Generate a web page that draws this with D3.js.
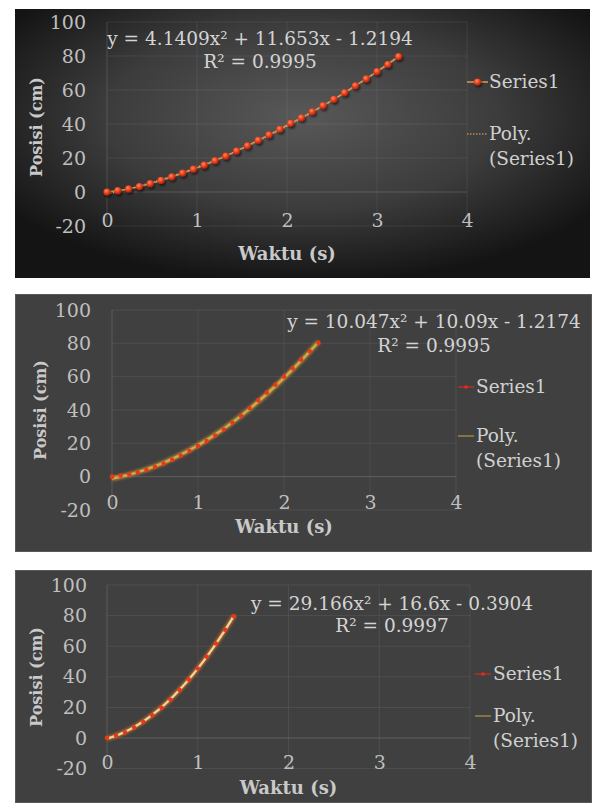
<!DOCTYPE html>
<html><head><meta charset="utf-8">
<script src="https://cdn.jsdelivr.net/npm/d3@7"></script>
<style>body{margin:0;background:#fff}svg{display:block}</style>
</head><body>
<script>
// ---------- data ----------
const xTicks = [0, 1, 2, 3, 4];
const yTicks = [-20, 0, 20, 40, 60, 80, 100];
const xTitle = "Waktu (s)";
const yTitle = "Posisi (cm)";
const seriesName = "Series1";
const trendName = ["Poly.", "(Series1)"];

const time1 = [0, 0.12, 0.24, 0.36, 0.48, 0.60, 0.72, 0.84, 0.96, 1.08, 1.20, 1.32, 1.44, 1.56,
               1.68, 1.80, 1.92, 2.04, 2.16, 2.28, 2.40, 2.52, 2.64, 2.76, 2.88, 3.00, 3.12, 3.24];
const pos1  = [0, 0.8, 1.8, 3.2, 4.9, 6.8, 8.9, 11.1, 13.4, 15.8, 18.4, 21.1, 24.1, 27.2,
               30.4, 33.6, 36.9, 40.4, 43.6, 47.2, 50.8, 54.5, 58.4, 62.5, 66.5, 70.8, 75.0, 79.6];
const coef1 = [4.1409, 11.653, -1.2194];
const r2_1 = "0.9995";

const time2 = [0, 0.1, 0.2, 0.3, 0.4, 0.5, 0.6, 0.7, 0.8, 0.9, 1.0, 1.1, 1.2, 1.3, 1.4, 1.5,
               1.6, 1.7, 1.8, 1.9, 2.0, 2.1, 2.2, 2.3, 2.4];
const pos2  = [0, 0.6, 1.4, 2.6, 4.0, 5.8, 7.8, 10.1, 12.7, 15.4, 18.3, 21.3, 24.7, 28.3, 32.3, 36.5,
               41.2, 45.8, 50.4, 55.2, 60.0, 65.0, 70.2, 75.2, 80.4];
const coef2 = [10.047, 10.09, -1.2174];
const r2_2 = "0.9995";

const time3 = [0, 0.1, 0.2, 0.3, 0.4, 0.5, 0.6, 0.7, 0.8, 0.9, 1.0, 1.1, 1.2, 1.3, 1.4];
const pos3  = [0, 1.4, 3.7, 6.9, 10.4, 14.9, 19.7, 25.0, 31.4, 38.3, 45.4, 53.1, 61.8, 70.8, 79.6];
const coef3 = [29.166, 16.6, -0.3904];
const r2_3 = "0.9997";

// ---------- layout ----------
const FONT = "'DejaVu Serif', serif";
const panels = [
  { bg: "url(#bg1)", rect: [15, 9, 575, 269], x0: 107, x1: 467, yt: 22, yb: 226,
    yLabRight: 86, xLabC: 220, yTitleX: 36, yTitleY: 127, xTitleY: 254,
    eqX: 260, eqY1: 45, eqY2: 68,
    legX: 467, legY1: 82, legY2: 134, style: 1,
    time: time1, pos: pos1, coef: coef1, r2: r2_1 },
  { bg: "#404040", rect: [15, 294, 577, 258], x0: 112, x1: 456, yt: 310, yb: 510,
    yLabRight: 91, xLabC: 502, yTitleX: 40, yTitleY: 410, xTitleY: 527,
    eqX: 434, eqY1: 328, eqY2: 352,
    legX: 458, legY1: 387, legY2: 436, style: 2,
    time: time2, pos: pos2, coef: coef2, r2: r2_2 },
  { bg: "#404040", rect: [15, 570, 577, 233], x0: 107, x1: 470, yt: 585, yb: 768.6,
    yLabRight: 87, xLabC: 762, yTitleX: 36, yTitleY: 677, xTitleY: 788,
    eqX: 392, eqY1: 610, eqY2: 632,
    legX: 475, legY1: 674, legY2: 716, style: 3,
    time: time3, pos: pos3, coef: coef3, r2: r2_3 }
];

const svg = d3.select("body").append("svg").attr("width", 593).attr("height", 803);
const defs = svg.append("defs");
const rg = defs.append("radialGradient").attr("id", "bg1").attr("cx", "50%").attr("cy", "40%").attr("r", "62%");
rg.append("stop").attr("offset", "0%").attr("stop-color", "#585858");
rg.append("stop").attr("offset", "55%").attr("stop-color", "#3c3c3c");
rg.append("stop").attr("offset", "100%").attr("stop-color", "#141414");

const mg = defs.append("radialGradient").attr("id", "mk").attr("cx", "40%").attr("cy", "35%").attr("r", "65%");
mg.append("stop").attr("offset", "0%").attr("stop-color", "#ff8a60");
mg.append("stop").attr("offset", "55%").attr("stop-color", "#e8401c");
mg.append("stop").attr("offset", "100%").attr("stop-color", "#a82010");

const sh = defs.append("filter").attr("id", "shadow").attr("x", "-50%").attr("y", "-50%").attr("width", "200%").attr("height", "200%");
sh.append("feDropShadow").attr("dx", 1.2).attr("dy", 1.8).attr("stdDeviation", 1).attr("flood-color", "#000").attr("flood-opacity", 0.6);
const gl = defs.append("filter").attr("id", "glow").attr("x", "-20%").attr("y", "-20%").attr("width", "140%").attr("height", "140%");
gl.append("feGaussianBlur").attr("stdDeviation", 1.1);

function eqText(c) {
  const sign = c[2] < 0 ? " - " : " + ";
  return `y = ${c[0]}x² + ${c[1]}x${sign}${Math.abs(c[2])}`;
}

panels.forEach(P => {
  const g = svg.append("g");
  g.append("rect").attr("x", P.rect[0]).attr("y", P.rect[1]).attr("width", P.rect[2]).attr("height", P.rect[3])
    .attr("fill", P.bg);
  if (P.style !== 1) {
    g.append("rect").attr("x", P.rect[0] + 0.5).attr("y", P.rect[1] + 0.5).attr("width", P.rect[2] - 1).attr("height", P.rect[3] - 1)
      .attr("fill", "none").attr("stroke", "#595959").attr("stroke-width", 1);
  }
  const x = d3.scaleLinear().domain([0, 4]).range([P.x0, P.x1]);
  const y = d3.scaleLinear().domain([-20, 100]).range([P.yb, P.yt]);
  const gridCol = "rgba(255,255,255,0.07)";

  // grid
  g.append("g").selectAll("line").data(yTicks).join("line")
    .attr("x1", P.x0).attr("x2", P.x1).attr("y1", d => y(d)).attr("y2", d => y(d))
    .attr("stroke", d => d === 0 ? "rgba(255,255,255,0.16)" : gridCol).attr("stroke-width", 1);
  g.append("g").selectAll("line").data(xTicks).join("line")
    .attr("y1", P.yt).attr("y2", P.yb).attr("x1", d => x(d)).attr("x2", d => x(d))
    .attr("stroke", d => d === 0 ? "rgba(255,255,255,0.14)" : gridCol).attr("stroke-width", 1);

  // axes
  const ya = g.append("g").attr("transform", `translate(${P.yLabRight + 2},0)`)
    .call(d3.axisLeft(y).tickValues(yTicks).tickFormat(d => String(d)).tickSize(0).tickPadding(2));
  ya.select(".domain").remove();
  ya.selectAll("text").attr("font-family", FONT).attr("font-size", 19).attr("fill", "#bfbfbf");
  const xa = g.append("g").attr("transform", `translate(0,${P.xLabC - 9})`)
    .call(d3.axisBottom(x).tickValues(xTicks).tickFormat(d => String(d)).tickSize(0).tickPadding(2));
  xa.select(".domain").remove();
  xa.selectAll("text").attr("font-family", FONT).attr("font-size", 19).attr("fill", "#bfbfbf");

  // titles
  g.append("text").attr("transform", `translate(${P.yTitleX},${P.yTitleY}) rotate(-90)`)
    .attr("text-anchor", "middle").attr("dy", "0.35em")
    .attr("font-family", FONT).attr("font-weight", "bold").attr("font-size", 16).attr("fill", "#c9c9c9").text(yTitle);
  g.append("text").attr("x", (P.x0 + P.x1) / 2).attr("y", P.xTitleY).attr("dy", "0.35em")
    .attr("text-anchor", "middle")
    .attr("font-family", FONT).attr("font-weight", "bold").attr("font-size", 18).attr("fill", "#c9c9c9").text(xTitle);

  // trendline sampled from the fitted polynomial shown in the chart
  const tMax = d3.max(P.time);
  const ts = d3.range(0, 101).map(i => tMax * i / 100);
  const trend = ts.map(t => [t, P.coef[0] * t * t + P.coef[1] * t + P.coef[2]]);
  const lineGen = d3.line().x(d => x(d[0])).y(d => y(d[1]));
  const pts = P.time.map((t, i) => [t, P.pos[i]]);

  if (P.style === 1) {
    g.append("path").attr("d", lineGen(pts)).attr("fill", "none").attr("stroke", "#d89050").attr("stroke-width", 1.6);
    g.append("path").attr("d", lineGen(trend)).attr("fill", "none").attr("stroke", "#d8a060")
      .attr("stroke-width", 1.4).attr("stroke-dasharray", "1.5,1.5");
    g.append("g").attr("filter", "url(#shadow)").selectAll("circle").data(pts).join("circle")
      .attr("cx", d => x(d[0])).attr("cy", d => y(d[1])).attr("r", 3.6).attr("fill", "url(#mk)");
  } else {
    const glowCol = P.style === 2 ? "#c08a30" : "#d06a20";
    const coreCol = P.style === 2 ? "#c4b050" : "#ecd6a0";
    g.append("path").attr("d", lineGen(trend)).attr("fill", "none").attr("stroke", glowCol)
      .attr("stroke-width", 5).attr("stroke-opacity", 0.75).attr("filter", "url(#glow)");
    g.append("path").attr("d", lineGen(pts)).attr("fill", "none").attr("stroke", "#e06a28").attr("stroke-width", 1.8);
    g.append("path").attr("d", lineGen(trend)).attr("fill", "none").attr("stroke", coreCol).attr("stroke-width", 2.2);
    g.append("g").selectAll("circle").data(pts).join("circle")
      .attr("cx", d => x(d[0])).attr("cy", d => y(d[1])).attr("r", 2.3).attr("fill", "#e8381c");
  }

  // equation
  g.append("text").attr("x", P.eqX).attr("y", P.eqY1).attr("text-anchor", "middle")
    .attr("font-family", FONT).attr("font-size", 18.5).attr("fill", "#d4d4d4").text(eqText(P.coef));
  g.append("text").attr("x", P.eqX).attr("y", P.eqY2).attr("text-anchor", "middle")
    .attr("font-family", FONT).attr("font-size", 18.5).attr("fill", "#d4d4d4").text(`R² = ${P.r2}`);

  // legend
  const lx = P.legX;
  if (P.style === 1) {
    g.append("line").attr("x1", lx).attr("x2", lx + 21).attr("y1", P.legY1).attr("y2", P.legY1)
      .attr("stroke", "#d89050").attr("stroke-width", 1.6);
    g.append("circle").attr("cx", lx + 10.5).attr("cy", P.legY1).attr("r", 3.6).attr("fill", "url(#mk)")
      .attr("filter", "url(#shadow)");
    g.append("line").attr("x1", lx).attr("x2", lx + 21).attr("y1", P.legY2).attr("y2", P.legY2)
      .attr("stroke", "#c08850").attr("stroke-width", 1.4).attr("stroke-dasharray", "1.5,1.5");
  } else {
    g.append("line").attr("x1", lx).attr("x2", lx + 16).attr("y1", P.legY1).attr("y2", P.legY1)
      .attr("stroke", "#b03020").attr("stroke-width", 1.6);
    g.append("circle").attr("cx", lx + 8).attr("cy", P.legY1).attr("r", 1.8).attr("fill", "#e8281c");
    g.append("line").attr("x1", lx).attr("x2", lx + 16).attr("y1", P.legY2).attr("y2", P.legY2)
      .attr("stroke", "#8c7c3c").attr("stroke-width", 1.8);
  }
  const tx = lx + (P.style === 1 ? 22 : 18);
  g.append("text").attr("x", tx).attr("y", P.legY1).attr("dy", "0.35em")
    .attr("font-family", FONT).attr("font-size", 18.5).attr("fill", "#d0d0d0").text(seriesName);
  g.append("text").attr("x", tx).attr("y", P.legY2).attr("dy", "0.35em")
    .attr("font-family", FONT).attr("font-size", 18.5).attr("fill", "#d0d0d0").text(trendName[0]);
  g.append("text").attr("x", tx).attr("y", P.legY2 + 25).attr("dy", "0.35em")
    .attr("font-family", FONT).attr("font-size", 18.5).attr("fill", "#d0d0d0").text(trendName[1]);
});
</script>
</body></html>
